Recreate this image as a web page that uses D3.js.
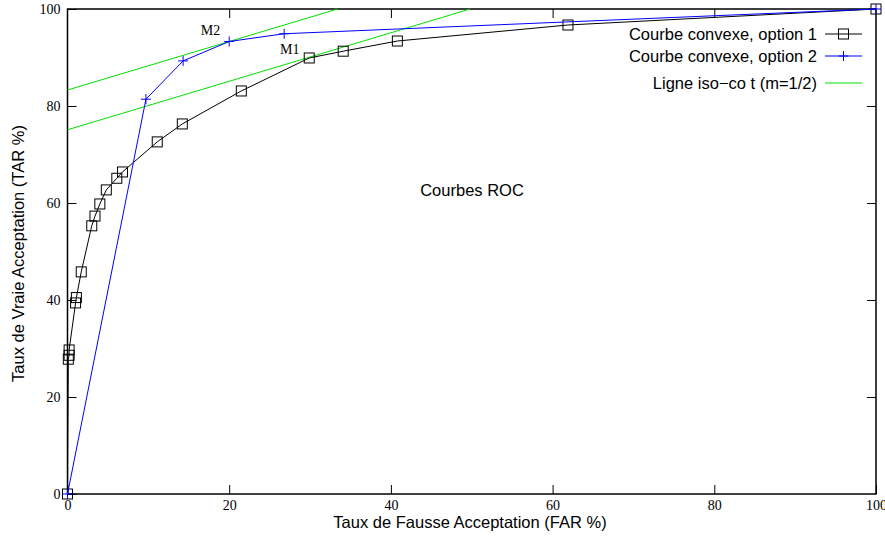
<!DOCTYPE html>
<html>
<head>
<meta charset="utf-8">
<script src="https://cdn.jsdelivr.net/npm/d3@7"></script>
<style>
  body { margin: 0; background: white; }
  svg { display: block; }
</style>
</head>
<body>
<svg id="plot"></svg>
<script>
const width = 885;
const height = 537;
const margin = {top: 9, right: 9, bottom: 43, left: 67.5};

// courbe convexe, option 1 (carrés noirs)
const far1 = [0, 0.1, 0.2, 0.2, 1.0, 1.1, 1.7, 3.0, 3.4, 4.0, 4.8, 6.1, 6.8, 11.1, 14.2, 21.5, 29.9, 34.1, 40.8, 61.9, 100];
const tar1 = [0, 27.8, 28.6, 29.7, 39.4, 40.5, 45.8, 55.3, 57.3, 59.8, 62.7, 65.1, 66.4, 72.6, 76.3, 83.1, 89.9, 91.3, 93.4, 96.7, 100];
// courbe convexe, option 2 (croix bleues)
const far2 = [0, 9.7, 14.3, 20.0, 26.8, 100];
const tar2 = [0, 81.4, 89.3, 93.3, 94.9, 100];
// lignes iso-coût, pente m = 1/2
const isoIntercepts = [83.3, 75.1];
const isoSlope = 0.5;

const xTicks = [0, 20, 40, 60, 80, 100];
const yTicks = [0, 20, 40, 60, 80, 100];

const legendLabels = ['Courbe convexe, option 1', 'Courbe convexe, option 2', 'Ligne iso\u2212co t (m=1/2)'];

const serif = '"Liberation Serif", "DejaVu Serif", serif';
const sans = '"Liberation Sans", Arial, sans-serif';
const sansSize = '16.5px';
const serifSize = '14px';

function main(){
  let svg = d3.select('svg#plot')
  .attr('width', width)
  .attr('height', height);

  let sx = d3.scaleLinear()
  .domain([0, 100])
  .range([margin.left, width - margin.right]);

  let sy = d3.scaleLinear()
  .domain([0, 100])
  .range([height - margin.bottom, margin.top]);

  // axes, ticks pointing inward, mirrored on top and right
  let tickLen = 9;
  let gx = svg.append('g')
  .attr('transform', `translate(0,${sy(0)})`)
  .call(d3.axisBottom(sx).tickValues(xTicks).tickSizeInner(-tickLen).tickSizeOuter(0).tickPadding(4));
  let gxTop = svg.append('g')
  .attr('transform', `translate(0,${sy(100)})`)
  .call(d3.axisTop(sx).tickValues(xTicks.slice(1, -1)).tickSizeInner(-tickLen).tickSizeOuter(0).tickFormat(''));
  let gy = svg.append('g')
  .attr('transform', `translate(${sx(0)},0)`)
  .call(d3.axisLeft(sy).tickValues(yTicks).tickSizeInner(-tickLen).tickSizeOuter(0).tickPadding(7));
  let gyRight = svg.append('g')
  .attr('transform', `translate(${sx(100)},0)`)
  .call(d3.axisRight(sy).tickValues(yTicks.slice(1, -1)).tickSizeInner(-tickLen).tickSizeOuter(0).tickFormat(''));

  [gx, gxTop, gy, gyRight].forEach(g => {
    g.select('.domain').remove();
    g.selectAll('.tick line').attr('stroke', '#000').attr('stroke-width', 1);
    g.selectAll('.tick text')
    .attr('fill', '#000')
    .style('font-family', serif)
    .style('font-size', serifSize);
  });
  gx.selectAll('.tick text').attr('dy', '0.86em');

  // border box
  svg.append('rect')
  .attr('x', sx(0))
  .attr('y', sy(100))
  .attr('width', sx(100) - sx(0))
  .attr('height', sy(0) - sy(100))
  .attr('fill', 'none')
  .attr('stroke', '#000')
  .attr('stroke-width', 1.5);

  // axis titles
  svg.append('text')
  .attr('x', 470)
  .attr('y', 527.5)
  .attr('text-anchor', 'middle')
  .style('font-family', sans)
  .style('font-size', sansSize)
  .text('Taux de Fausse Acceptation (FAR %)');

  svg.append('text')
  .attr('transform', `translate(24,${(sy(0) + sy(100)) / 2 + 2}) rotate(-90)`)
  .attr('text-anchor', 'middle')
  .style('font-family', sans)
  .style('font-size', sansSize)
  .text('Taux de Vraie Acceptation (TAR %)');

  svg.append('text')
  .attr('x', 472)
  .attr('y', 196)
  .attr('text-anchor', 'middle')
  .style('font-family', sans)
  .style('font-size', sansSize)
  .text('Courbes ROC');

  let plot = svg.append('g');

  // iso-cost lines, clipped at TAR = 100
  let line = d3.line().x(d => sx(d[0])).y(d => sy(d[1]));
  isoIntercepts.forEach(b => {
    let xEnd = (100 - b) / isoSlope;
    plot.append('path')
    .attr('d', line([[0, b], [xEnd, 100]]))
    .attr('fill', 'none')
    .attr('stroke', '#00e000')
    .attr('stroke-width', 1);
  });

  let pts1 = far1.map((d, i) => [d, tar1[i]]);
  let pts2 = far2.map((d, i) => [d, tar2[i]]);

  plot.append('path')
  .attr('d', line(pts1))
  .attr('fill', 'none')
  .attr('stroke', '#000')
  .attr('stroke-width', 1);

  plot.selectAll('.sq')
  .data(pts1)
  .enter()
  .append('rect')
  .attr('class', 'sq')
  .attr('x', d => sx(d[0]) - 5)
  .attr('y', d => sy(d[1]) - 5)
  .attr('width', 10)
  .attr('height', 10)
  .attr('fill', 'none')
  .attr('stroke', '#000')
  .attr('stroke-width', 1);

  plot.append('path')
  .attr('d', line(pts2))
  .attr('fill', 'none')
  .attr('stroke', '#0000ff')
  .attr('stroke-width', 1);

  plot.selectAll('.cross')
  .data(pts2)
  .enter()
  .append('path')
  .attr('class', 'cross')
  .attr('d', d => {
    let x = sx(d[0]), y = sy(d[1]);
    return `M${x - 5},${y}H${x + 5}M${x},${y - 5}V${y + 5}`;
  })
  .attr('stroke', '#0000ff')
  .attr('stroke-width', 1);

  // point labels
  svg.append('text')
  .attr('x', sx(18.9))
  .attr('y', sy(94.7))
  .attr('text-anchor', 'end')
  .style('font-family', serif)
  .style('font-size', serifSize)
  .text('M2');
  svg.append('text')
  .attr('x', sx(28.7))
  .attr('y', sy(90.7))
  .attr('text-anchor', 'end')
  .style('font-family', serif)
  .style('font-size', serifSize)
  .text('M1');

  // legend
  let legendY = [34, 56, 83];
  let legendColors = ['#000', '#0000ff', '#00e000'];
  let legend = svg.selectAll('.legend')
  .data(legendLabels)
  .enter()
  .append('g')
  .attr('class', 'legend')
  .attr('transform', (d, i) => `translate(0,${legendY[i]})`);

  legend.append('text')
  .attr('x', 817)
  .attr('dy', '0.35em')
  .attr('text-anchor', 'end')
  .style('font-family', sans)
  .style('font-size', sansSize)
  .text(d => d);

  legend.append('line')
  .attr('x1', 825)
  .attr('x2', 862)
  .attr('stroke', (d, i) => legendColors[i])
  .attr('stroke-width', 1);

  legend.filter((d, i) => i === 0)
  .append('rect')
  .attr('x', 838.5)
  .attr('y', -5)
  .attr('width', 10)
  .attr('height', 10)
  .attr('fill', 'none')
  .attr('stroke', '#000');

  legend.filter((d, i) => i === 1)
  .append('path')
  .attr('d', 'M838.5,0H848.5M843.5,-5V5')
  .attr('stroke', '#0000ff');
}

document.addEventListener('DOMContentLoaded', main);
</script>
</body>
</html>
